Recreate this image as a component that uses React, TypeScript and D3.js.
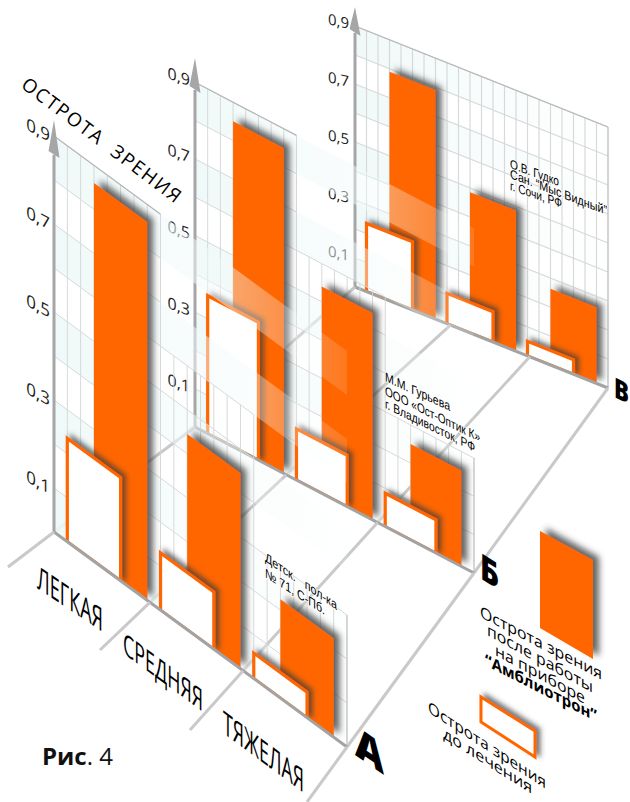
import React from "react";
import * as d3 from "d3";

// Visual acuity before and after treatment, three clinics, three severity groups.
const severities = ["ЛЕГКАЯ", "СРЕДНЯЯ", "ТЯЖЕЛАЯ"];
const tickValues = [0.1, 0.3, 0.5, 0.7, 0.9];
const tickLabels = ["0,1", "0,3", "0,5", "0,7", "0,9"];

const afterA = [0.86, 0.445, 0.225];
const beforeA = [0.235, 0.13, 0.058];
const afterB = [0.85, 0.54, 0.25];
const beforeB = [0.36, 0.134, 0.087];
const afterV = [0.79, 0.485, 0.263];
const beforeV = [0.235, 0.105, 0.05];

const ORANGE = "#ff6600";
const COLS = 22;
const SANS = "'Open Sans', sans-serif";
const NOTE = "'Liberation Sans', sans-serif";

type Wall = {
  id: string; x0: number; y0: number; x1: number; y1: number; unit: number;
  after: number[]; before: number[]; stepped: boolean; dividers: number[];
  tickSize: number; tickSlope: number; tickDx: number; tickDy: number; arrowTop: number; arrowBase: number;
};

const wallV: Wall = { id: "v", x0: 355, y0: 287, x1: 608, y1: 388, unit: 290, after: afterV, before: beforeV, stepped: false, dividers: [0, 8.3, 15.2, 22], tickSize: 15, tickSlope: 0.22, tickDx: -6, tickDy: 3, arrowTop: 7, arrowBase: 33 };
const wallB: Wall = { id: "b", x0: 195, y0: 427, x1: 474, y1: 573, unit: 383, after: afterB, before: beforeB, stepped: true, dividers: [0, 7.2, 14.4, 22], tickSize: 16, tickSlope: 0.36, tickDx: -5, tickDy: 4, arrowTop: 58, arrowBase: 90 };
const wallA: Wall = { id: "a", x0: 54, y0: 532, x1: 347, y1: 747, unit: 440, after: afterA, before: beforeA, stepped: true, dividers: [0, 7.2, 14.2, 22], tickSize: 17, tickSlope: 0.52, tickDx: -4, tickDy: 6, arrowTop: 120, arrowBase: 155 };

// Near ends of the grey floor rules that run from the front wall towards the viewer.
const floorFront: [number, number][] = [[8, 567], [100, 650], [190, 730], [307, 802]];

const poly = d3.line<[number, number]>();

function project(w: Wall) {
  const col = d3.scaleLinear([0, COLS], [w.x0, w.x1]);
  const floor = d3.scaleLinear([0, COLS], [w.y0, w.y1]);
  const rise = d3.scaleLinear([0, 1], [0, w.unit]);
  return (c: number, v: number): [number, number] => [col(c), floor(c) - rise(v)];
}

function Slanted({ from, to, size, children, weight, family, fill, halo }: any) {
  const slope = (to[1] - from[1]) / (to[0] - from[0]);
  return (
    <text
      transform={`matrix(1,${slope},0,1,${from[0]},${from[1]})`}
      textLength={to[0] - from[0]}
      lengthAdjust="spacingAndGlyphs"
      fontSize={size}
      fontFamily={family ?? SANS}
      fontWeight={weight ?? 400}
      fill={fill ?? "#000"}
      stroke={halo ? "#fff" : undefined}
      strokeWidth={halo ? 2 : undefined}
      strokeOpacity={halo ? 0.75 : undefined}
      paintOrder="stroke"
    >
      {children}
    </text>
  );
}

function Bar({ p, start, value, filterId, outlined }: any) {
  const pts = [p(start, 0), p(start + 4, 0), p(start + 4, value), p(start, value)];
  return (
    <path
      d={poly(pts) + "Z"}
      fill={outlined ? "#fff" : ORANGE}
      stroke={outlined ? ORANGE : "none"}
      strokeWidth={outlined ? 3.2 : 0}
      filter={`url(#${filterId})`}
    />
  );
}

function WallGroup({ w, note }: { w: Wall; note: React.ReactNode }) {
  const p = project(w);
  const gridTop = (c: number) => (!w.stepped || c <= 8 ? 0.9 : c <= 15 ? 0.6 : 0.3);
  const rowEnd = (v: number) => (!w.stepped || v <= 0.3 ? COLS : v <= 0.6 ? 15 : 8);
  const bands = d3.range(5).map((i) => 0.9 - i * 0.2);
  const rows = d3.range(0, 10).map((i) => i / 10);
  const cols = d3.range(0, COLS + 1);
  const [ax, ay] = [w.x0, w.y0];
  const clip: [number, number][] = [[w.x0 - 6, -20], [w.x1 + 24, -20], [w.x1 + 24, w.y1], [w.x1, w.y1], [w.x0, w.y0], [w.x0 - 6, w.y0 - 6]];
  const topLeft = p(0, 0.9);
  const topRight = p(w.stepped ? 8 : COLS, 0.9);
  const rightLow = p(COLS, 0);
  const rightHigh = p(COLS, gridTop(COLS));
  return (
    <g>
      <defs>
        <linearGradient id={`band-${w.id}`} gradientUnits="userSpaceOnUse" x1={w.x0} x2={w.x1} y1={0} y2={0}>
          <stop offset="0" stopColor="#eef8f8" stopOpacity={0.9} />
          <stop offset="1" stopColor="#f6fbfb" stopOpacity={0.12} />
        </linearGradient>
        <clipPath id={`clip-${w.id}`}>
          <path d={poly(clip) + "Z"} />
        </clipPath>
      </defs>
      {bands.map((v) => (
        <path key={v} d={poly([p(0, v), p(COLS, v), p(COLS, v - 0.1), p(0, v - 0.1)]) + "Z"} fill={`url(#band-${w.id})`} />
      ))}
      <g stroke="#d2d6d6" strokeWidth={w.stepped ? 1 : 1.2} opacity={0.9}>
        {rows.map((v) => {
          const a = p(0, v), b = p(rowEnd(v), v);
          return v === 0 ? null : <line key={v} x1={a[0]} y1={a[1]} x2={b[0]} y2={b[1]} />;
        })}
        {cols.map((c) => {
          const a = p(c, 0), b = p(c, gridTop(c));
          return <line key={c} x1={a[0]} y1={a[1]} x2={b[0]} y2={b[1]} />;
        })}
      </g>
      <g stroke="#b8b8b8" strokeWidth={1.2}>
        <line x1={topLeft[0]} y1={topLeft[1]} x2={topRight[0]} y2={topRight[1]} />
        <line x1={rightLow[0]} y1={rightLow[1]} x2={rightHigh[0]} y2={rightHigh[1]} strokeOpacity={0.7} />
      </g>
      <g clipPath={`url(#clip-${w.id})`}>
        {severities.map((s, i) => (
          <g key={s}>
            <Bar p={p} start={3 + 7 * i} value={w.after[i]} filterId="shadow-after" />
            <Bar p={p} start={1 + 7 * i} value={w.before[i]} filterId="shadow-before" outlined />
          </g>
        ))}
      </g>
      <line x1={ax} y1={ay} x2={w.x1} y2={w.y1} stroke="#a3a3a3" strokeWidth={3} />
      <line x1={ax} y1={ay + 1} x2={ax} y2={w.arrowBase} stroke="#a6a6a6" strokeWidth={3} />
      <path
        d={poly([[ax, w.arrowTop], [ax + 5.5, w.arrowBase + 3], [ax - 5.5, w.arrowBase - 4]]) + "Z"}
        fill="#a6a6a6"
      />
      {tickValues.map((v, i) => {
        const t = p(0, v);
        return (
          <text
            key={v}
            transform={`matrix(1,${w.tickSlope},0,1,${t[0] + w.tickDx},${t[1] + w.tickDy})`}
            textAnchor="end"
            fontSize={w.tickSize}
            fontFamily={SANS}
            fill="#222"
          >
            {tickLabels[i]}
          </text>
        );
      })}
      {note}
    </g>
  );
}

function FloorRules({ near, far }: { near?: Wall; far?: Wall }) {
  return (
    <g stroke="#c9c9c9" strokeWidth={3} fill="none">
      {floorFront.map((front, i) => {
        const a: [number, number] = near ? project(near)(near.dividers[i], 0) : front;
        const b: [number, number] = far ? project(far)(far.dividers[i], 0) : front;
        return <line key={i} x1={a[0]} y1={a[1]} x2={b[0]} y2={b[1]} />;
      })}
    </g>
  );
}

export default function App() {
  return (
    <svg
      width={630}
      height={802}
      viewBox="0 0 630 802"
      style={{ position: "absolute", left: 0, top: 0, background: "#fff" }}
    >
      <defs>
        <filter id="shadow-after" x="-30%" y="-20%" width="170%" height="140%">
          <feDropShadow dx={6} dy={-3} stdDeviation={3.4} floodColor="#3c3c3c" floodOpacity={0.8} />
        </filter>
        <filter id="shadow-before" x="-30%" y="-20%" width="170%" height="140%">
          <feDropShadow dx={4} dy={-2} stdDeviation={2.6} floodColor="#3c3c3c" floodOpacity={0.7} />
        </filter>
      </defs>

      <WallGroup
        w={wallV}
        note={
          <g>
            <Slanted from={[510, 168]} to={[559, 186]} size={13} family={NOTE} halo>О.В. Гудко</Slanted>
            <Slanted from={[510, 178]} to={[607, 215]} size={13} family={NOTE} halo>Сан. “Мыс Видный”</Slanted>
            <Slanted from={[510, 190]} to={[562, 208]} size={13} family={NOTE} halo>г. Сочи, РФ</Slanted>
          </g>
        }
      />
      <FloorRules near={wallB} far={wallV} />
      <WallGroup
        w={wallB}
        note={
          <g>
            <Slanted from={[385, 381]} to={[450, 411]} size={13} family={NOTE} halo>М.М. Гурьева</Slanted>
            <Slanted from={[385, 395]} to={[480, 442]} size={13} family={NOTE} halo>ООО «Ост-Оптик К»</Slanted>
            <Slanted from={[385, 408]} to={[475, 452]} size={13} family={NOTE} halo>г. Владивосток, РФ</Slanted>
          </g>
        }
      />
      <FloorRules near={wallA} far={wallB} />
      <WallGroup
        w={wallA}
        note={
          <g>
            <Slanted from={[265, 561]} to={[337, 610]} size={13} family={NOTE} halo>Детск.&#160;&#160; пол-ка</Slanted>
            <Slanted from={[265, 577]} to={[325, 615]} size={13} family={NOTE} halo>№ 71, С-Пб.</Slanted>
          </g>
        }
      />
      <FloorRules near={undefined} far={wallA} />

      <text
        transform="translate(20,87) rotate(37)"
        fontSize={19}
        fontFamily={SANS}
        textLength={194}
        lengthAdjust="spacing"
        style={{ whiteSpace: "pre" }}
      >
        ОСТРОТА  ЗРЕНИЯ
      </text>

      <Slanted from={[37, 588]} to={[103, 632]} size={32}>{severities[0]}</Slanted>
      <Slanted from={[123, 653]} to={[203, 712]} size={30}>{severities[1]}</Slanted>
      <Slanted from={[223, 733]} to={[304, 793]} size={32}>{severities[2]}</Slanted>

      <Slanted from={[355, 755]} to={[384, 775]} size={42} weight={800}>А</Slanted>
      <Slanted from={[480, 578]} to={[499, 590]} size={36} weight={800}>Б</Slanted>
      <Slanted from={[614, 397]} to={[629, 404]} size={28} weight={800}>В</Slanted>

      {/* Legend swatches */}
      <path
        d={poly([[540, 531], [593, 560], [593, 659], [540, 628]]) + "Z"}
        fill={ORANGE}
        filter="url(#shadow-after)"
      />
      <path
        d={poly([[481, 697], [535, 731], [535, 757], [481, 722]]) + "Z"}
        fill="#fff"
        stroke={ORANGE}
        strokeWidth={3}
        filter="url(#shadow-before)"
      />

      <Slanted from={[480, 617]} to={[602, 680]} size={16}>Острота зрения</Slanted>
      <Slanted from={[487, 635]} to={[593, 693]} size={16}>после работы</Slanted>
      <Slanted from={[495, 655]} to={[585, 704]} size={16}>на приборе</Slanted>
      <Slanted from={[485, 665]} to={[597, 722]} size={16} weight={700}>“Амблиотрон”</Slanted>
      <Slanted from={[428, 712]} to={[546, 789]} size={16}>Острота зрения</Slanted>
      <Slanted from={[443, 738]} to={[532, 794]} size={16}>до лечения</Slanted>

      <text x={42} y={765} fontSize={24} fontFamily={SANS} fill="#111">
        <tspan fontWeight={700}>Рис</tspan>. 4
      </text>
    </svg>
  );
}
